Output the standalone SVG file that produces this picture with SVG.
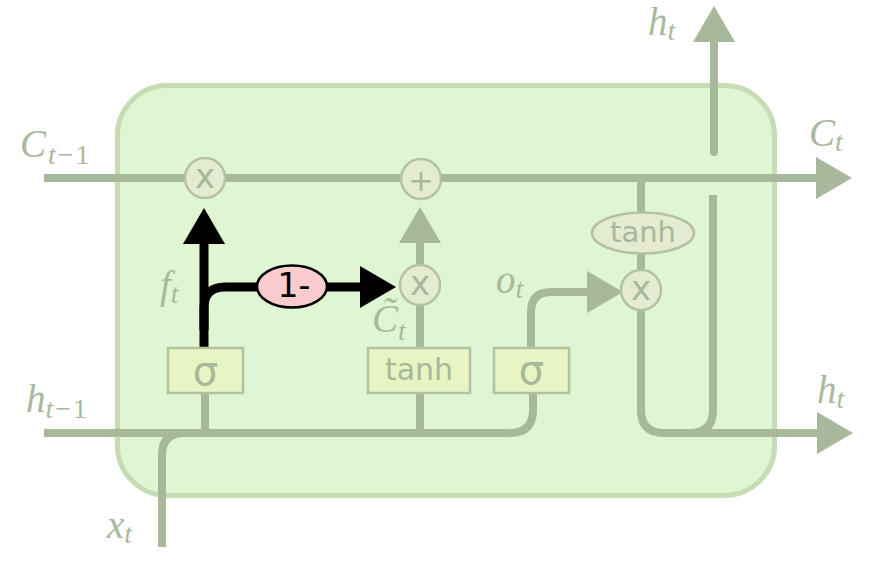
<svg xmlns="http://www.w3.org/2000/svg" width="877" height="562" viewBox="0 0 877 562">
<style>
.cell{fill:#e0f5d1;stroke:#c5dcb4;stroke-width:5}
.ln{fill:none;stroke:#a8b89a;stroke-width:8}
.bk{fill:none;stroke:#000;stroke-width:9}
.op{fill:#e5ebd0;stroke:#b4c2a4;stroke-width:2.5}
.bx{fill:#e8f5c2;stroke:#b4c2a4;stroke-width:2.5}
.sym{font-family:"DejaVu Sans",sans-serif;fill:#a8b89a;text-anchor:middle}
.lbl{font-family:"Liberation Serif",serif;font-style:italic;font-size:39px;fill:#a9b99b}
.sub{font-size:28px}
.up{font-style:normal}
</style>
<defs>
<marker id="ag" markerUnits="userSpaceOnUse" viewBox="0 0 36 42" refX="0" refY="21" markerWidth="36" markerHeight="42" orient="auto"><path d="M0,0 L36,21 L0,42 Z" fill="#a8b89a"/></marker>
<marker id="ab" markerUnits="userSpaceOnUse" viewBox="0 0 36 42" refX="0" refY="21" markerWidth="36" markerHeight="42" orient="auto"><path d="M0,0 L36,21 L0,42 Z" fill="#000"/></marker>
</defs>
<rect id="cell" class="cell" x="117.5" y="85.5" width="657" height="410" rx="50" ry="50"/>
<g id="connectors">
<path class="ln" d="M44,178 H816" marker-end="url(#ag)"/>
<path class="ln" d="M714,152 V42" stroke-linecap="round" marker-end="url(#ag)"/>
<path class="ln" d="M713,195 V410 Q713,433 690,433"/>
<path class="ln" d="M641,178 V410 Q641,433 664,433 H817" marker-end="url(#ag)"/>
<path class="ln" d="M44,433 H510 Q533,433 533,410 V393"/>
<path class="ln" d="M162,547 V455 Q162,433 184,433 H200"/>
<path class="ln" d="M531,348 V312 Q531,292 551,292 H587" marker-end="url(#ag)"/>
<path class="ln" d="M205,393 V433"/>
<path class="ln" d="M420,393 V433"/>
<path class="ln" d="M420,348 V243" marker-end="url(#ag)"/>
<path class="bk" d="M204,348 V244" marker-end="url(#ab)"/>
<path class="bk" d="M204,330 V308 Q204,287 225,287 H360" marker-end="url(#ab)"/>
</g>
<g id="mult_forget"><circle class="op" cx="205" cy="178" r="20"/><text class="sym" x="205" y="188" font-size="34">x</text></g>
<g id="add"><circle class="op" cx="421" cy="179" r="20"/><text class="sym" x="421" y="191" font-size="31">+</text></g>
<g id="mult_input"><circle class="op" cx="420" cy="285" r="20"/><text class="sym" x="420" y="295" font-size="34">x</text></g>
<g id="mult_output"><circle class="op" cx="641" cy="290" r="20"/><text class="sym" x="641" y="300" font-size="34">x</text></g>
<g id="tanh_out"><ellipse class="op" cx="643" cy="233" rx="51" ry="20.5"/><text class="sym" x="643" y="242" font-size="29">tanh</text></g>
<g id="sigma_forget"><rect class="bx" x="168" y="348" width="75" height="45"/><text class="sym" x="205.5" y="385" font-size="40">σ</text></g>
<g id="tanh_cand"><rect class="bx" x="368" y="348" width="102" height="45"/><text class="sym" x="419" y="380" font-size="30">tanh</text></g>
<g id="sigma_output"><rect class="bx" x="494" y="348" width="75" height="45"/><text class="sym" x="531.5" y="384" font-size="40">σ</text></g>
<g id="one_minus"><ellipse cx="292" cy="286.5" rx="35" ry="21" fill="#f8cccc" stroke="#000" stroke-width="2.5"/><text x="294" y="297" font-family="DejaVu Sans,sans-serif" font-size="33" text-anchor="middle" fill="#000">1-</text></g>
<g id="labels">
<text class="lbl" x="20" y="157" font-size="44">C<tspan class="sub" dx="2" dy="7">t</tspan><tspan class="sub up" dx="2">−</tspan><tspan class="sub up" dx="2">1</tspan></text>
<text class="lbl" x="26" y="412">h<tspan class="sub" dy="6">t</tspan><tspan class="sub up" dx="2">−</tspan><tspan class="sub up" dx="2">1</tspan></text>
<text class="lbl" x="107" y="538" font-size="42">x<tspan class="sub" dy="5">t</tspan></text>
<text class="lbl" x="648" y="35">h<tspan class="sub" dy="5">t</tspan></text>
<text class="lbl" x="809" y="146" font-size="41">C<tspan class="sub" dy="5">t</tspan></text>
<text class="lbl" x="817" y="403">h<tspan class="sub" dy="5">t</tspan></text>
<text class="lbl" x="160" y="298">f<tspan class="sub" dy="5">t</tspan></text>
<text class="lbl" x="496" y="293">o<tspan class="sub" dy="5">t</tspan></text>
<text class="lbl" x="372" y="332" font-size="34">C&#x303;<tspan class="sub" dy="8" font-size="26">t</tspan></text>
</g>
</svg>
